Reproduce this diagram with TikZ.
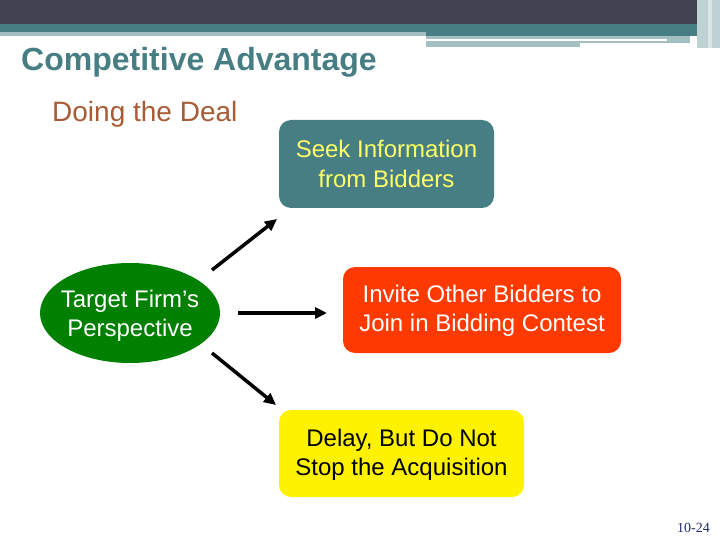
\documentclass[tikz,border=0pt]{standalone}
\usepackage{fontspec}
\setmainfont{Liberation Sans}
\newfontfamily\serifpage{Liberation Serif}
\usetikzlibrary{arrows.meta,positioning,shapes.geometric}
\definecolor{slate}{HTML}{41424F}
\definecolor{teal}{HTML}{477E84}
\definecolor{mist}{HTML}{A3BFC1}
\definecolor{rust}{HTML}{A85A34}
\definecolor{fire}{HTML}{FF3A00}
\definecolor{leaf}{HTML}{008000}
\definecolor{lemon}{HTML}{FFFF66}
\definecolor{pagenavy}{HTML}{1F2A6E}
\tikzset{box/.style={rounded corners=12pt,align=center,font=\fontsize{24}{29}\selectfont,inner sep=0pt},
  flow/.style={-{Triangle[length=12pt,width=11pt]},line width=3.5pt}}

\begin{document}
\begin{tikzpicture}[x=1pt,y=-1pt]
\useasboundingbox (0,0) rectangle (720,540);
% header bands
\fill[slate] (0,0) rectangle (720,24);
\fill[teal] (0,24) rectangle (700,36);
\fill[mist] (0,32) rectangle (426,36);
\fill[mist] (426,36) rectangle (690,47);
\fill[white] (426,39) rectangle (667,41);
\fill[white] (580,43) rectangle (690,47);
\fill[mist!70] (697,0) rectangle (720,48);
\fill[mist!40] (708,0) rectangle (712,48);
\node[anchor=base west,text=teal,font=\bfseries\fontsize{32}{36}\selectfont,inner sep=0pt] (title) at (21,71) {Competitive Advantage};
\node[anchor=base west,text=rust,font=\fontsize{28}{32}\selectfont,inner sep=0pt] (sub) at (52,122) {Doing the Deal};
% diagram
\node[ellipse,fill=leaf,minimum width=180pt,minimum height=100pt,inner sep=0pt,
  label={[align=center,text=white,font=\fontsize{24}{29}\selectfont,yshift=-3pt]center:Target Firm’s\\Perspective}] (target) at (130,313) {};
\node[box,fill=teal,text=lemon,minimum width=215pt,minimum height=88pt] (seek) at (386.5,164) {\raisebox{1pt}{Seek Information}\\from Bidders};
\node[box,fill=fire,text=white,minimum width=278pt,minimum height=86pt,text depth=3pt] (invite) at (482,310) {Invite Other Bidders to\\Join in Bidding Contest};
\node[box,fill=yellow,text=black,minimum width=245pt,minimum height=87pt,text depth=3pt] (delay) at (401.5,453.5) {Delay, But Do Not\\Stop the Acquisition};
\coordinate (upA) at (212,270);
\coordinate (upB) at (277,219);
\coordinate (midA) at (238,313);
\coordinate (midB) at (327,313);
\coordinate (lowA) at (212,353);
\coordinate (lowB) at (276,405);
\draw[flow] (upA) -- (upB);
\draw[flow] (midA) -- (midB);
\draw[flow] (lowA) -- (lowB);
\node[anchor=base east,text=pagenavy,font=\serifpage\fontsize{14}{16}\selectfont,inner sep=0pt] (page) at (710,532) {10-24};
\end{tikzpicture}
\end{document}
